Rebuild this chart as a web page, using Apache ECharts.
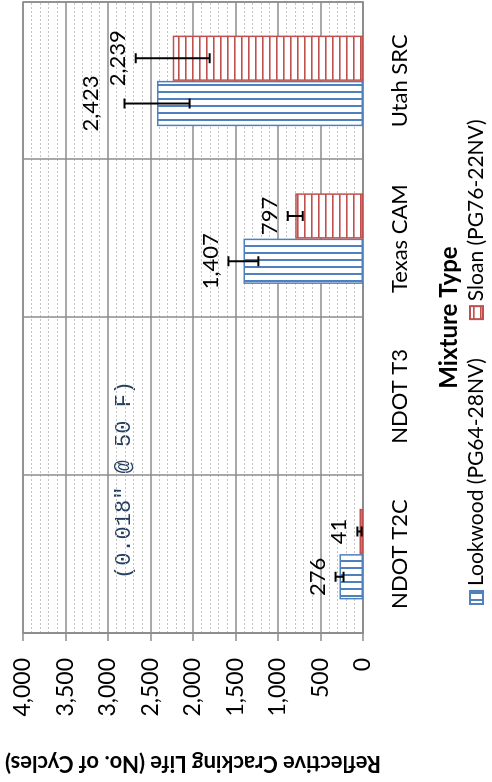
<!DOCTYPE html>
<html>
<head>
<meta charset="utf-8">
<script src="https://cdn.jsdelivr.net/npm/echarts@6/dist/echarts.min.js"></script>
<style>
html,body{margin:0;padding:0;background:#fff;overflow:hidden;width:492px;height:782px;}
#wrap{position:absolute;left:0;top:0;width:782px;height:492px;transform-origin:0 0;transform:translate(0px,782px) rotate(-90deg);background:#fff;}
</style>
</head>
<body>
<div id="wrap"></div>
<script>
// ---- data ----
const categories = ['NDOT T2C', 'NDOT T3', 'Texas CAM', 'Utah SRC'];
const seriesNames = ['Lookwood (PG64-28NV)', 'Sloan (PG76-22NV)'];
const lookwoodValues = [276, null, 1407, 2423];
const sloanValues = [41, null, 797, 2239];
const lookwoodErrors = [47, null, 176, 383];
const sloanErrors = [25, null, 88, 435];
const valueAxisMin = 0;
const valueAxisMax = 4000;
const valueAxisStep = 500;
const annotationText = '(0.018" @ 50 F)';
const valueAxisTitle = 'Reflective Cracking Life (No. of Cycles)';
const categoryAxisTitle = 'Mixture Type';

// ---- styling ----
const BLUE = '#4F81BD', RED = '#C0504D', GRID = '#8c8c8c';
const FONT = 'Lato, "Open Sans", sans-serif';
const FS = 22;
const CAT_GAP = 0.426;
const LABEL_GAP = 7;
const labelNudge = { '-1|3': 16 }; // extra lift for the Lookwood / Utah SRC label

function stripePattern(color, vertical) {
  const c = document.createElement('canvas');
  c.width = 7; c.height = 7;
  const g = c.getContext('2d');
  g.fillStyle = '#fff'; g.fillRect(0, 0, 7, 7);
  g.fillStyle = color;
  if (vertical) g.fillRect(3, 0, 2, 7); else g.fillRect(0, 3, 7, 1.6);
  return { image: c, repeat: 'repeat' };
}
const fmt = v => Number(v).toLocaleString('en-US');

function errData(vals, errs) {
  const out = [];
  vals.forEach((v, i) => { if (v != null) out.push([i, v, errs[i]]); });
  return out;
}

function errRender(side) {
  return function (params, api) {
    const ci = api.value(0), v = api.value(1), e = api.value(2);
    const band = api.size([1, 0])[0];
    const bw = band * (1 - CAT_GAP) / 2;
    const c = api.coord([ci, v]);
    const x = c[0] + side * bw / 2;
    const yHi = api.coord([ci, v + e])[1];
    const yLo = api.coord([ci, Math.max(v - e, 0)])[1];
    const cap = 5;
    const st = { stroke: '#000', lineWidth: 2 };
    const lift = LABEL_GAP + (labelNudge[side + '|' + ci] || 0);
    return {
      type: 'group',
      children: [
        { type: 'line', shape: { x1: x, y1: yHi, x2: x, y2: yLo }, style: st },
        { type: 'line', shape: { x1: x - cap, y1: yHi, x2: x + cap, y2: yHi }, style: st },
        { type: 'line', shape: { x1: x - cap, y1: yLo, x2: x + cap, y2: yLo }, style: st },
        { type: 'text', style: { text: fmt(v), x: x, y: yHi - lift, align: 'center', verticalAlign: 'bottom',
            fontSize: FS, fontFamily: FONT, fill: '#000' } }
      ]
    };
  };
}

const chart = echarts.init(document.getElementById('wrap'), null, { renderer: 'canvas', width: 782, height: 492 });
chart.setOption({
  backgroundColor: '#fff',
  animation: false,
  grid: { left: 145, right: 2, top: 23, bottom: 129, show: true, borderColor: GRID, borderWidth: 1.5, containLabel: false },
  legend: {
    data: seriesNames, left: 177, top: 466, itemGap: 38, itemWidth: 13, itemHeight: 13, icon: 'rect',
    textStyle: { fontSize: 21, fontFamily: FONT, color: '#000' }, padding: 0
  },
  xAxis: {
    type: 'category', data: categories,
    name: categoryAxisTitle, nameLocation: 'middle', nameGap: 74,
    nameTextStyle: { fontSize: 24, fontWeight: 'bold', fontFamily: FONT, color: '#000' },
    axisLine: { show: true, lineStyle: { color: GRID, width: 1.5 } },
    axisTick: { show: false },
    splitLine: { show: true, lineStyle: { color: GRID, width: 1.5 } },
    axisLabel: { margin: 26, fontSize: FS, fontFamily: FONT, color: '#000' }
  },
  yAxis: {
    type: 'value', min: valueAxisMin, max: valueAxisMax, interval: valueAxisStep,
    name: valueAxisTitle, nameLocation: 'middle', nameRotate: 90, nameGap: 119,
    nameTextStyle: { fontSize: 22, fontWeight: 'bold', fontFamily: FONT, color: '#000' },
    axisLine: { show: true, lineStyle: { color: GRID, width: 1.5 } },
    axisTick: { show: true, length: 8, lineStyle: { color: GRID, width: 1.5 } },
    axisLabel: { margin: 25, fontSize: 23, fontFamily: FONT, color: '#000', formatter: v => fmt(v) },
    splitLine: { show: true, lineStyle: { color: GRID, width: 1.5 } },
    minorTick: { show: false, splitNumber: 5 },
    minorSplitLine: { show: true, lineStyle: { color: '#c4c4c4', width: 1, type: [2, 2] } }
  },
  graphic: [{
    type: 'text', left: 203, top: 113,
    style: { text: annotationText, fontSize: 22, fontFamily: '"Liberation Mono", "DejaVu Sans Mono", monospace', fill: '#243f60' }
  }],
  series: [
    { name: seriesNames[0], type: 'bar', data: lookwoodValues, barGap: '0%', barCategoryGap: (CAT_GAP * 100) + '%',
      itemStyle: { color: stripePattern(BLUE, true), borderColor: BLUE, borderWidth: 1.5 } },
    { name: seriesNames[1], type: 'bar', data: sloanValues, barGap: '0%', barCategoryGap: (CAT_GAP * 100) + '%',
      itemStyle: { color: stripePattern(RED, false), borderColor: RED, borderWidth: 1.5 } },
    { name: 'errL', type: 'custom', data: errData(lookwoodValues, lookwoodErrors), renderItem: errRender(-1), z: 5 },
    { name: 'errS', type: 'custom', data: errData(sloanValues, sloanErrors), renderItem: errRender(1), z: 5 }
  ]
});
</script>
</body>
</html>
